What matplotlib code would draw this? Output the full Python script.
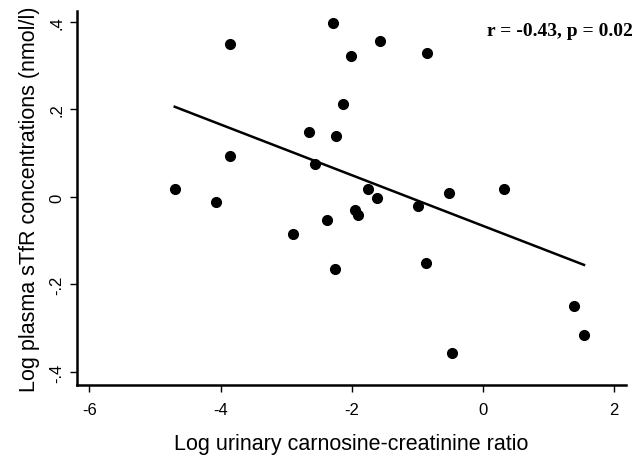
import numpy as np
import matplotlib
matplotlib.use("Agg")
import matplotlib.pyplot as plt

# Data
log_carnosine_ratio = [-4.70, -4.07, -3.86, -3.86, -2.65, -2.56, -2.29, -1.57, -2.01, -0.85,
                       -2.14, -2.24, -1.75, -1.61, -0.52, 0.32, -0.99, -1.95, -1.90, -2.38,
                       -2.90, -2.26, -0.87, -0.47, 1.39, 1.54]
log_stfr = [0.018, -0.011, 0.350, 0.094, 0.148, 0.076, 0.397, 0.357, 0.322, 0.329,
            0.213, 0.139, 0.019, -0.002, 0.010, 0.019, -0.021, -0.031, -0.042, -0.053,
            -0.085, -0.164, -0.151, -0.357, -0.249, -0.315]
x_ticks = [-6, -4, -2, 0, 2]
y_ticks = [-0.4, -0.2, 0.0, 0.2, 0.4]
y_ticklabels = ["-.4", "-.2", "0", ".2", ".4"]
annotation = "r = -0.43, p = 0.02"

x = np.array(log_carnosine_ratio)
y = np.array(log_stfr)
slope, intercept = np.polyfit(x, y, 1)

fig = plt.figure(figsize=(6.44, 4.56), dpi=100)
ax = fig.add_axes([0.1196, 0.1535, 0.972 - 0.1196, 0.9737 - 0.1535])

ax.plot(x, y, 'o', color='black', markersize=7, zorder=3)
xl = np.array([x.min(), x.max()])
ax.plot(xl, intercept + slope * xl, color='black', linewidth=1.8)

ax.set_xlim(-6.19, 2.18)
ax.set_ylim(-0.43, 0.425)
ax.set_xticks(x_ticks)
ax.set_xticklabels([str(t) for t in x_ticks], fontfamily='Liberation Sans', fontsize=12)
ax.set_yticks(y_ticks)
ax.set_yticklabels(y_ticklabels, fontfamily='Liberation Sans', fontsize=12,
                   rotation=90, va='center')

for s in ['top', 'right']:
    ax.spines[s].set_visible(False)
for s in ['left', 'bottom']:
    ax.spines[s].set_linewidth(1.8)
ax.tick_params(axis='both', direction='out', length=5, width=1)
ax.tick_params(axis='x', pad=7)
ax.tick_params(axis='y', pad=4)

ax.set_xlabel("Log urinary carnosine-creatinine ratio", fontfamily='Liberation Sans',
              fontsize=15.5, labelpad=11.5)
ax.set_ylabel("Log plasma sTfR concentrations (nmol/l)", fontfamily='Liberation Sans',
              fontsize=15.5, labelpad=7)

ax.text(1.0128, 0.949, annotation, transform=ax.transAxes, ha='right', va='center',
        fontfamily='Liberation Serif', fontweight='bold', fontsize=14)

fig.savefig("out.png", dpi=100)
